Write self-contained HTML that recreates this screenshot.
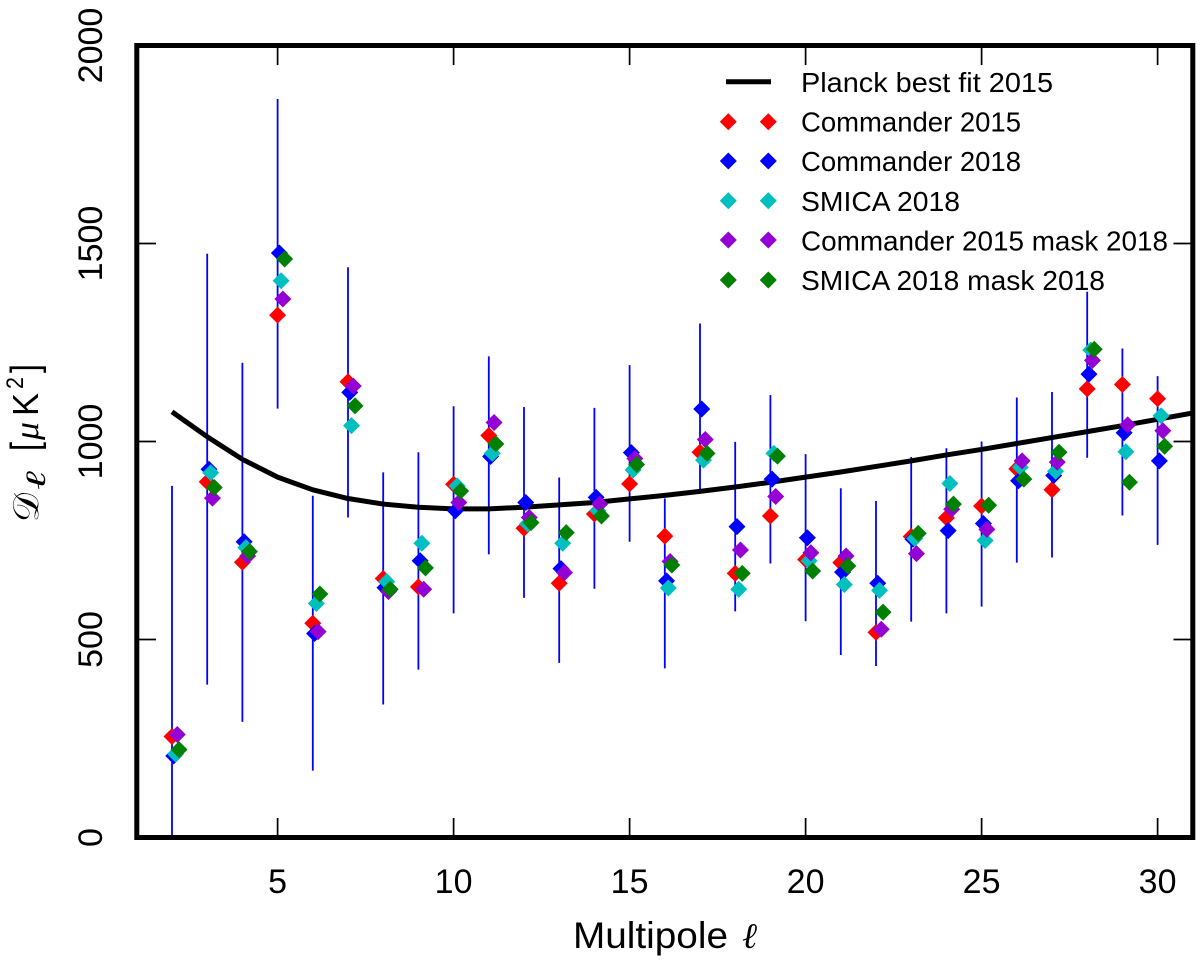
<!DOCTYPE html>
<html lang="en">
<head>
<meta charset="utf-8">
<title>Planck low-l power spectrum</title>
<style>
  html, body { margin: 0; padding: 0; background: #fff; }
  svg { display: block; }
  text { font-family: "Liberation Sans", "DejaVu Sans", sans-serif; fill: #000; }
  .math { font-family: "Liberation Serif", "DejaVu Serif", serif; font-style: italic; }
  .script { font-family: "DejaVu Sans", "DejaVu Serif", "Liberation Serif", serif; }
</style>
</head>
<body>
<svg id="chart" xmlns="http://www.w3.org/2000/svg" width="1200" height="963" viewBox="0 0 1200 963">
  <defs>
    <clipPath id="plot-clip"><rect x="136.8" y="45.5" width="1056" height="792"></rect></clipPath>
  </defs>
  <rect x="0" y="0" width="1200" height="963" fill="#fff"></rect>
  <g id="errors" clip-path="url(#plot-clip)"></g>
  <path id="curve" fill="none" stroke="#000" stroke-width="5" stroke-linejoin="round" clip-path="url(#plot-clip)"></path>
  <g id="points" clip-path="url(#plot-clip)"></g>
  <g id="ticks"></g>
  <rect x="136.8" y="45.5" width="1056" height="792" fill="none" stroke="#000" stroke-width="5"></rect>
  <g id="tick-labels"></g>

  <g>
    <text x="573" y="948" font-size="37" textLength="155" lengthAdjust="spacingAndGlyphs">Multipole</text>
    <text class="math" x="742" y="948" font-size="36">ℓ</text>
  </g>
  <g transform="translate(38,522) rotate(-90)">
    <text class="script" x="0" y="0" font-size="36" textLength="29" lengthAdjust="spacingAndGlyphs">𝒟</text>
    <text class="math" x="32" y="7" font-size="28" textLength="19" lengthAdjust="spacingAndGlyphs">ℓ</text>
    <text x="71" y="0" font-size="39" textLength="9" lengthAdjust="spacingAndGlyphs">[</text>
    <text class="math" x="82" y="0" font-size="34" textLength="18" lengthAdjust="spacingAndGlyphs">μ</text>
    <text x="106" y="0" font-size="36" textLength="23" lengthAdjust="spacingAndGlyphs">K</text>
    <text x="133" y="-15" font-size="24" textLength="12" lengthAdjust="spacingAndGlyphs">2</text>
    <text x="149" y="0" font-size="39" textLength="9" lengthAdjust="spacingAndGlyphs">]</text>
  </g>

  <g id="legend">
    <g>
      <line x1="726" x2="771" y1="81.7" y2="81.7" stroke="#000" stroke-width="5"></line>
      <text x="801" y="92" font-size="28" textLength="252" lengthAdjust="spacingAndGlyphs">Planck best fit 2015</text>
    </g>
    <g fill="#ff0000">
      <polygon points="719.8,121.7 728.3,113.2 736.8,121.7 728.3,130.2"></polygon>
      <polygon points="759.8,121.7 768.3,113.2 776.8,121.7 768.3,130.2"></polygon>
      <text x="801" y="131.5" font-size="28" textLength="220" lengthAdjust="spacingAndGlyphs">Commander 2015</text>
    </g>
    <g fill="#0000ff">
      <polygon points="719.8,161 728.3,152.5 736.8,161 728.3,169.5"></polygon>
      <polygon points="759.8,161 768.3,152.5 776.8,161 768.3,169.5"></polygon>
      <text x="801" y="171" font-size="28" textLength="220" lengthAdjust="spacingAndGlyphs">Commander 2018</text>
    </g>
    <g fill="#00bfbf">
      <polygon points="719.8,200.7 728.3,192.2 736.8,200.7 728.3,209.2"></polygon>
      <polygon points="759.8,200.7 768.3,192.2 776.8,200.7 768.3,209.2"></polygon>
      <text x="801" y="211" font-size="28" textLength="159" lengthAdjust="spacingAndGlyphs">SMICA 2018</text>
    </g>
    <g fill="#9400d3">
      <polygon points="719.8,240 728.3,231.5 736.8,240 728.3,248.5"></polygon>
      <polygon points="759.8,240 768.3,231.5 776.8,240 768.3,248.5"></polygon>
      <text x="801" y="250.5" font-size="28" textLength="367" lengthAdjust="spacingAndGlyphs">Commander 2015 mask 2018</text>
    </g>
    <g fill="#008000">
      <polygon points="719.8,280 728.3,271.5 736.8,280 728.3,288.5"></polygon>
      <polygon points="759.8,280 768.3,271.5 776.8,280 768.3,288.5"></polygon>
      <text x="801" y="290" font-size="28" textLength="304" lengthAdjust="spacingAndGlyphs">SMICA 2018 mask 2018</text>
    </g>
  </g>
</svg>

<script>
const multipoles = [2,3,4,5,6,7,8,9,10,11,12,13,14,15,16,17,18,19,20,21,22,23,24,25,26,27,28,29,30];
const commander2015 = [255,898,695,1319,541,1151,654,633,892,1015,781,642,817,893,761,973,667,812,702,694,518,760,807,837,931,878,1133,1144,1108];
const commander2018 = [206,930,747,1476,515,1124,631,699,825,962,846,679,859,972,648,1082,785,905,757,670,642,753,775,793,901,914,1170,1022,951];
const smica2018 = [211,921,732,1406,591,1040,646,743,888,970,792,743,825,928,630,953,627,970,699,639,624,755,894,750,935,925,1231,974,1065];
const commander2015Mask = [260,857,711,1360,520,1140,621,627,846,1048,808,669,842,957,697,1005,726,861,719,711,526,717,829,778,951,948,1205,1042,1027];
const smica2018Mask = [222,884,722,1461,615,1090,627,681,875,994,795,770,812,942,688,970,667,963,673,686,569,768,842,839,905,973,1233,897,988];
const errorUpper = [888,1474,1199,1865,863,1440,922,973,1089,1215,1087,909,1085,1193,856,1298,999,1117,968,882,850,961,983,1000,1111,1125,1378,1235,1165];
const errorLower = [0,386,292,1083,169,808,336,424,566,715,605,441,628,747,427,876,571,692,546,461,433,545,566,583,694,707,959,813,739];
const curveMultipoles = [2,3,4,5,6,7,8,9,10,11,12,13,14,15,16,17,18,19,20,21,22,23,24,25,26,27,28,29,30,31];
const curveValues = [1075,1012,955,910,878,856,842,834,830,830,834,840,846,855,864,874,885,897,910,923,937,951,966,980,995,1010,1025,1040,1056,1072];
const xTickValues = [5,10,15,20,25,30];
const yTickValues = [0,500,1000,1500,2000];
const seriesNames = ['commander-2015','commander-2018','smica-2018','commander-2015-mask','smica-2018-mask'];
const seriesColors = ['#ff0000','#0000ff','#00bfbf','#9400d3','#008000'];
const seriesData = [commander2015, commander2018, smica2018, commander2015Mask, smica2018Mask];
const seriesShift = [0, 0.05, 0.1, 0.15, 0.2];

const NS = 'http://www.w3.org/2000/svg';
function xScale(l) { return 136.8 + (l - 1) * 35.2; }
function yScale(d) { return 837.5 - d * 0.396; }
function make(tag, attrs, parent) {
  const el = document.createElementNS(NS, tag);
  for (const k in attrs) el.setAttribute(k, attrs[k]);
  parent.appendChild(el);
  return el;
}

const errorsGroup = document.getElementById('errors');
multipoles.forEach(function (l, i) {
  const el = make('line', {x1: xScale(l), x2: xScale(l), y1: yScale(errorLower[i]), y2: yScale(errorUpper[i]), stroke: '#0000ff', 'stroke-width': 1.8}, errorsGroup);
  
  
});

document.getElementById('curve').setAttribute('d', curveValues.map(function (v, i) {
  return (i ? 'L' : 'M') + xScale(curveMultipoles[i]).toFixed(2) + ' ' + yScale(v).toFixed(2);
}).join(' '));

const pointsGroup = document.getElementById('points');
multipoles.forEach(function (l, i) {
  seriesData.forEach(function (values, s) {
    const cx = xScale(l + seriesShift[s]);
    const cy = yScale(values[i]);
    const r = 8.5;
    const pts = [[cx - r, cy], [cx, cy - r], [cx + r, cy], [cx, cy + r]].map(function (p) { return p[0].toFixed(2) + ',' + p[1].toFixed(2); }).join(' ');
    const el = make('polygon', {points: pts, fill: seriesColors[s]}, pointsGroup);
    
    
  });
});

const ticksGroup = document.getElementById('ticks');
const labelsGroup = document.getElementById('tick-labels');
xTickValues.forEach(function (v) {
  const x = xScale(v);
  const bottom = make('line', {x1: x, x2: x, y1: 837.5, y2: 818, stroke: '#000', 'stroke-width': 1.7}, ticksGroup);
  
  
  const top = make('line', {x1: x, x2: x, y1: 45.5, y2: 65, stroke: '#000', 'stroke-width': 1.7}, ticksGroup);
  
  
  const label = make('text', {x: x, y: 893, 'font-size': 34, 'text-anchor': 'middle'}, labelsGroup);
  label.textContent = String(v);
  
  
});
yTickValues.forEach(function (v) {
  const y = yScale(v);
  const left = make('line', {x1: 136.8, x2: 156, y1: y, y2: y, stroke: '#000', 'stroke-width': 1.7}, ticksGroup);
  
  
  const right = make('line', {x1: 1192.8, x2: 1173.5, y1: y, y2: y, stroke: '#000', 'stroke-width': 1.7}, ticksGroup);
  
  
  const label = make('text', {x: 0, y: 0, 'font-size': 34, 'text-anchor': 'middle', transform: 'translate(102,' + y + ') rotate(-90)'}, labelsGroup);
  label.textContent = String(v);
  
  
});
</script>
</body>
</html>
